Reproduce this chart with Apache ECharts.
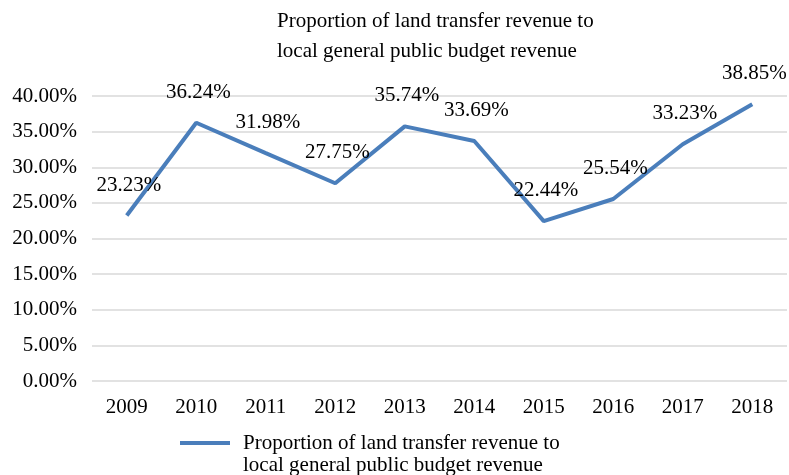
<!DOCTYPE html>
<html>
<head>
<meta charset="utf-8">
<script src="https://cdn.jsdelivr.net/npm/echarts@6/dist/echarts.min.js"></script>
<style>
  html, body { margin: 0; padding: 0; background: #fff; }
  #chart { width: 789px; height: 475px; }
</style>
</head>
<body>
<div id="chart"></div>
<script>
var years = ['2009', '2010', '2011', '2012', '2013', '2014', '2015', '2016', '2017', '2018'];
var shares = [23.23, 36.24, 31.98, 27.75, 35.74, 33.69, 22.44, 25.54, 33.23, 38.85];
var seriesName = 'Proportion of land transfer revenue to\nlocal general public budget revenue';

var font = 'Liberation Serif, Times New Roman, serif';
var chart = echarts.init(document.getElementById('chart'));

chart.setOption({
  backgroundColor: '#fff',
  textStyle: { fontFamily: font },
  title: {
    text: 'Proportion of land transfer revenue to\nlocal general public budget revenue',
    left: 272,
    top: 1,
    textStyle: { fontFamily: font, fontSize: 21, fontWeight: 'normal', color: '#000', lineHeight: 30 }
  },
  legend: {
    top: 405,
    left: 175,
    itemWidth: 50,
    itemHeight: 26,
    // bar at the top of a taller icon box, so it lines up with the first text line
    icon: 'path://M0,0H50V4H0Z M0,25.9H0.1V26H0Z',
    itemStyle: { borderWidth: 0 },
    data: [seriesName],
    textStyle: { fontFamily: font, fontSize: 21, color: '#000', lineHeight: 22, padding: [44, 0, 0, 8] }
  },
  grid: { left: 92, right: 2, top: 96, bottom: 94 },
  xAxis: {
    type: 'category',
    data: years,
    boundaryGap: true,
    axisLine: { show: false },
    axisTick: { show: false },
    axisLabel: { fontFamily: font, fontSize: 21, color: '#000', margin: 16 }
  },
  yAxis: {
    type: 'value',
    min: 0,
    max: 40,
    interval: 5,
    axisLine: { show: false },
    axisTick: { show: false },
    splitLine: { lineStyle: { color: '#d9d9d9', width: 1.5 } },
    axisLabel: {
      fontFamily: font, fontSize: 21, color: '#000', margin: 15,
      formatter: function (v) { return v.toFixed(2) + '%'; }
    }
  },
  series: [{
    name: seriesName,
    type: 'line',
    data: shares,
    symbol: 'circle',
    symbolSize: 0,
    showSymbol: true,
    lineStyle: { color: '#4a7ebb', width: 4 },
    itemStyle: { color: '#4a7ebb' },
    label: {
      show: true,
      position: 'top',
      distance: 20,
      offset: [2, 0],
      fontFamily: font,
      fontSize: 21,
      color: '#000',
      formatter: function (p) { return p.value.toFixed(2) + '%'; }
    }
  }]
});
</script>
</body>
</html>
